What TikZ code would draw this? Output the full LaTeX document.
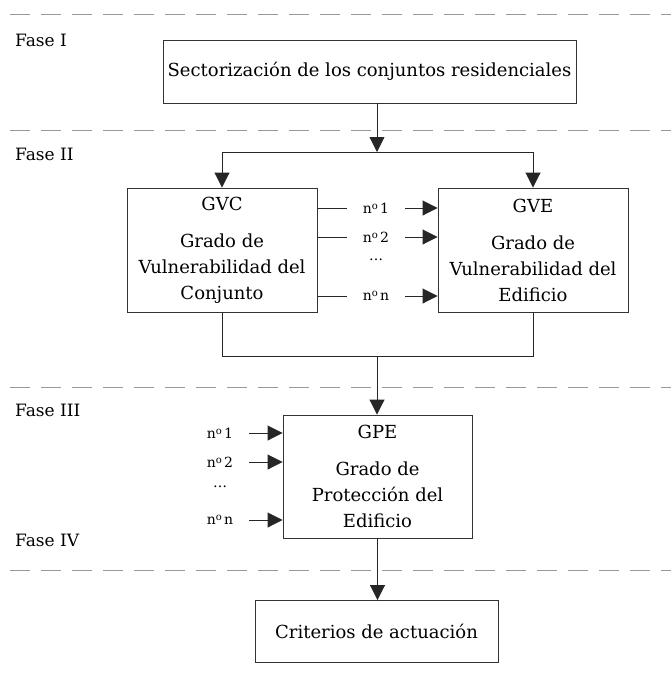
\documentclass[tikz,border=0pt]{standalone}
\usepackage{fontspec}
\setmainfont{DejaVu Serif}
\usetikzlibrary{arrows.meta}
\newcommand{\nro}[1]{n\raisebox{0.5ex}{\fontsize{10}{10}\selectfont o}\,#1}
\begin{document}
\begin{tikzpicture}[x=1pt,y=-1pt,
  box/.style={draw=black!80, line width=0.9pt, inner sep=0pt, align=center,
    font=\fontsize{18}{26}\selectfont},
  lbl/.style={font=\fontsize{14}{16}\selectfont, inner ysep=0pt, inner xsep=16pt},
  fase/.style={font=\fontsize{17}{20}\selectfont, anchor=west, inner sep=0pt},
  sep/.style={draw=black!40, line width=0.9pt, dash pattern=on 20pt off 11pt},
  con/.style={draw=black!85, line width=0.9pt},
  arr/.style={con, -{Triangle[length=15pt,width=15pt]}}]
\useasboundingbox (0,0) rectangle (671,678);

% separators
\foreach \yy in {14,130,387,570} \draw[sep] (10,\yy) -- (671,\yy);

% phase labels
\node[fase] (f1) at (15,40) {Fase I};
\node[fase] (f2) at (15,154) {Fase II};
\node[fase] (f3) at (15,410) {Fase III};
\node[fase] (f4) at (15,540) {Fase IV};

% boxes
\node[box, minimum width=413pt, minimum height=63pt] (sect) at (369.5,71.5)
  {Sectorización de los conjuntos residenciales};
\node[box, minimum width=190pt, minimum height=124pt] (gvc) at (222,250)
  {GVC\\[11pt]Grado de\\Vulnerabilidad del\\Conjunto};
\node[box, minimum width=190pt, minimum height=124pt] (gve) at (533,250)
  {GVE\\[11pt]Grado de\\Vulnerabilidad del\\Edificio};
\node[box, minimum width=189pt, minimum height=123pt] (gpe) at (377.5,476.5)
  {GPE\\[11pt]Grado de\\Protección del\\Edificio};
\node[box, minimum width=243pt, minimum height=62pt] (crit) at (376.5,631.5)
  {Criterios de actuación};

% junctions
\coordinate (j1) at (377,152);
\coordinate (j2) at (377,356);

\draw[arr] (sect.south -| j1) -- (j1);
\draw[arr] (j1) -| (gvc.north);
\draw[arr] (j1) -| (gve.north);

% GVC -> GVE labels
\node[lbl] (a1) at (376,208) {\nro{1}};
\node[lbl] (a2) at (376,237) {\nro{2}};
\node[lbl] (a3) at (376,260) {…};
\node[lbl] (a4) at (376,296) {\nro{n}};
\foreach \a in {a1,a2,a4} {
  \draw[con] (gvc.east |- \a) -- (\a.west);
  \draw[arr] (\a.east) -- (gve.west |- \a);
}

% bottom bar
\draw[con] (gvc.south) |- (j2);
\draw[con] (gve.south) |- (j2);
\draw[arr] (j2) -- (j2 |- gpe.north);

% GPE inputs
\node[lbl] (b1) at (220,433) {\nro{1}};
\node[lbl] (b2) at (220,462) {\nro{2}};
\node[lbl] (b3) at (220,487) {…};
\node[lbl] (b4) at (220,520) {\nro{n}};
\foreach \b in {b1,b2,b4} \draw[arr] (\b.east) -- (gpe.west |- \b);

\draw[arr] (gpe.south) -- (gpe.south |- crit.north);
\end{tikzpicture}
\end{document}
